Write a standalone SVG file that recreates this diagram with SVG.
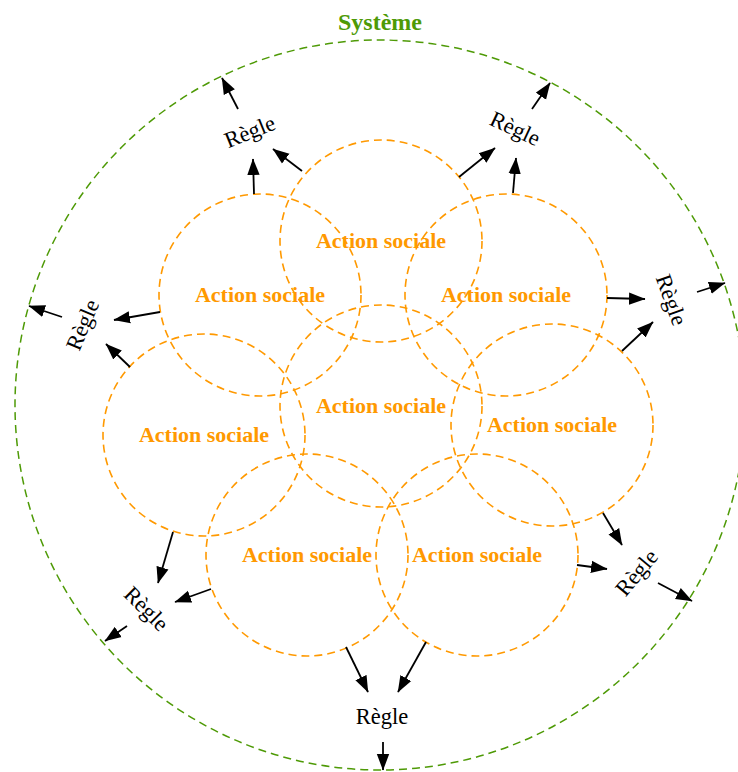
<svg xmlns="http://www.w3.org/2000/svg" width="738" height="772" viewBox="0 0 738 772">
<style>
.sys{fill:none;stroke:#4e9a06;stroke-width:1.5;stroke-dasharray:8,5}
.act{fill:none;stroke:#ff9900;stroke-width:1.6;stroke-dasharray:8,5}
.actt{font-family:"Liberation Serif","Times New Roman",serif;font-size:22px;font-weight:bold;fill:#ff9900;text-anchor:middle}
.rt{font-family:"Liberation Serif","Times New Roman",serif;font-size:22.5px;fill:#000;text-anchor:middle}
.syst{font-family:"Liberation Serif","Times New Roman",serif;font-size:24px;font-weight:bold;fill:#4e9a06;text-anchor:middle}
.arr{stroke:#000;stroke-width:1.8;fill:none;marker-end:url(#ah)}
</style>
<defs>
<marker id="ah" markerUnits="userSpaceOnUse" markerWidth="18" markerHeight="14" refX="16" refY="7" orient="auto">
<path d="M0,0.8 L16.5,7 L0,13.2 z" fill="#000"/>
</marker>
</defs>
<rect width="738" height="772" fill="#fff"/>
<g id="systeme">
<circle class="sys" cx="380" cy="405" r="365"/>
<text class="syst" x="380" y="30">Système</text>
</g>
<g id="action1"><circle class="act" cx="381" cy="241" r="101"/><text class="actt" x="381" y="248">Action sociale</text></g>
<g id="action2"><circle class="act" cx="260" cy="295" r="101"/><text class="actt" x="260" y="302">Action sociale</text></g>
<g id="action3"><circle class="act" cx="506" cy="295" r="101"/><text class="actt" x="506" y="302">Action sociale</text></g>
<g id="action4"><circle class="act" cx="381" cy="406" r="101"/><text class="actt" x="381" y="413">Action sociale</text></g>
<g id="action5"><circle class="act" cx="204" cy="435" r="101"/><text class="actt" x="204" y="442">Action sociale</text></g>
<g id="action6"><circle class="act" cx="552" cy="425" r="101"/><text class="actt" x="552" y="432">Action sociale</text></g>
<g id="action7"><circle class="act" cx="307" cy="555" r="101"/><text class="actt" x="307" y="562">Action sociale</text></g>
<g id="action8"><circle class="act" cx="477" cy="555" r="101"/><text class="actt" x="477" y="562">Action sociale</text></g>
<g id="regle1"><text class="rt" transform="translate(250,132) rotate(-22)" y="7">Règle</text></g>
<g id="regle2"><text class="rt" transform="translate(515,129) rotate(25)" y="7">Règle</text></g>
<g id="regle3"><text class="rt" transform="translate(83,325) rotate(-67)" y="7">Règle</text></g>
<g id="regle4"><text class="rt" transform="translate(671,300) rotate(70)" y="7">Règle</text></g>
<g id="regle5"><text class="rt" transform="translate(146,609) rotate(45)" y="7">Règle</text></g>
<g id="regle6"><text class="rt" transform="translate(637,573) rotate(-50)" y="7">Règle</text></g>
<g id="regle7"><text class="rt" x="382" y="724">Règle</text></g>
<g id="connectors">
<line class="arr" x1="254" y1="194" x2="253" y2="159"/>
<line class="arr" x1="302" y1="171" x2="273" y2="149"/>
<line class="arr" x1="238" y1="109" x2="222" y2="78"/>
<line class="arr" x1="459" y1="177" x2="495" y2="148"/>
<line class="arr" x1="513" y1="193" x2="516" y2="158"/>
<line class="arr" x1="532" y1="109" x2="550" y2="83"/>
<line class="arr" x1="160" y1="312" x2="114" y2="320"/>
<line class="arr" x1="130" y1="367" x2="106" y2="344"/>
<line class="arr" x1="62" y1="317" x2="29" y2="306"/>
<line class="arr" x1="607" y1="298" x2="645" y2="299"/>
<line class="arr" x1="622" y1="351" x2="653" y2="322"/>
<line class="arr" x1="697" y1="292" x2="725" y2="283"/>
<line class="arr" x1="173" y1="532" x2="158" y2="583"/>
<line class="arr" x1="211" y1="589" x2="175" y2="602"/>
<line class="arr" x1="127" y1="626" x2="105" y2="641"/>
<line class="arr" x1="603" y1="513" x2="622" y2="545"/>
<line class="arr" x1="577" y1="565" x2="607" y2="569"/>
<line class="arr" x1="658" y1="583" x2="692" y2="601"/>
<line class="arr" x1="346" y1="647" x2="368" y2="692"/>
<line class="arr" x1="426" y1="642" x2="398" y2="692"/>
<line class="arr" x1="383" y1="742" x2="383" y2="770"/>
</g>
</svg>
